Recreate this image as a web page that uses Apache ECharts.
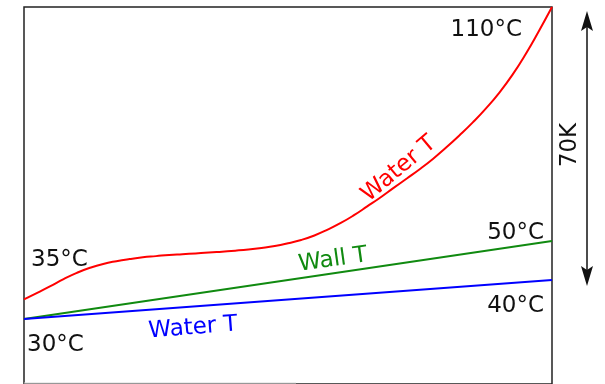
<!DOCTYPE html>
<html>
<head>
<meta charset="utf-8">
<script src="https://cdn.jsdelivr.net/npm/echarts@6/dist/echarts.min.js"></script>
<style>
  html, body { margin: 0; padding: 0; background: #fff; }
  #chart { width: 605px; height: 384px; }
</style>
</head>
<body>
<div id="chart"></div>
<script>
// Position along the heat exchanger (0 = inlet, 100 = outlet)
const position = [
  0, 2.5, 5, 7.5, 10, 12.5, 15, 17.5, 20, 22.5, 25, 27.5, 30, 32.5, 35, 37.5, 40,
  42.5, 45, 47.5, 50, 52.5, 55, 57.5, 60, 62.5, 65, 67.5, 70, 72.5, 75, 77.5, 80,
  82.5, 85, 87.5, 90, 92.5, 95, 97.5, 100
];
// Hot water temperature (°C)
const hotWater = [
  35, 36.7, 38.4, 40.2, 41.8, 43.1, 44.1, 44.8, 45.35, 45.8, 46.1, 46.4, 46.6, 46.8, 47.0, 47.25, 47.5,
  47.8, 48.2, 48.7, 49.4, 50.25, 51.4, 52.9, 54.6, 56.6, 58.85, 61.15, 63.6, 66.0, 68.45, 71.1, 74.0,
  77.1, 80.4, 84.0, 88.0, 92.6, 97.9, 103.8, 110
];
// Straight profiles: wall and cold water
const endPos = [0, 100];
const wallTemp = [30, 50];
const coldWater = [30, 40];

const FONT = '"DejaVu Sans"';
const SIZE = '23px ';
const chart = echarts.init(document.getElementById('chart'));

const pairs = (xs, ys) => xs.map((x, i) => [x, ys[i]]);
const degC = v => v + '°C';
const label = (text, x, y, align, fill, rot) => ({
  type: 'text', x, y, rotation: (rot || 0) * Math.PI / 180,
  style: { text, font: SIZE + FONT, fill: fill || '#111', align, verticalAlign: 'middle' }
});

chart.setOption({
  animation: false,
  grid: {
    left: 24, right: 53, top: 7, bottom: -3,
    show: true, borderColor: '#222', borderWidth: 1.5, backgroundColor: 'transparent'
  },
  xAxis: {
    type: 'value', min: 0, max: 100,
    axisLine: { show: false }, axisTick: { show: false },
    axisLabel: { show: false }, splitLine: { show: false }
  },
  yAxis: {
    type: 'value', min: 13.3, max: 110,
    axisLine: { show: false }, axisTick: { show: false },
    axisLabel: { show: false }, splitLine: { show: false }
  },
  series: [
    {
      name: 'Water T (hot)', type: 'line', smooth: 0.5, symbol: 'none',
      data: pairs(position, hotWater),
      lineStyle: { color: '#ff0000', width: 2 }
    },
    {
      name: 'Wall T', type: 'line', symbol: 'none',
      data: pairs(endPos, wallTemp),
      lineStyle: { color: '#108a10', width: 2 }
    },
    {
      name: 'Water T (cold)', type: 'line', symbol: 'none',
      data: pairs(endPos, coldWater),
      lineStyle: { color: '#0000ff', width: 2 }
    }
  ],
  graphic: [
    // faint lower edge of the frame
    { type: 'line', shape: { x1: 24, y1: 383, x2: 296, y2: 383 }, style: { stroke: '#d8d8d8', lineWidth: 1 } },
    // temperature annotations
    label(degC(hotWater[hotWater.length - 1]), 522, 30, 'right'),
    label(degC(hotWater[0]), 31, 260, 'left'),
    label(degC(coldWater[0]), 27, 345, 'left'),
    label(degC(wallTemp[1]), 544, 233, 'right'),
    label(degC(coldWater[1]), 544, 306, 'right'),
    // curve names
    label('Water T', 399, 169, 'center', '#ff0000', 40),
    label('Wall T', 333, 260, 'center', '#108a10', 8),
    label('Water T', 193, 328, 'center', '#0000ff', 4.5),
    // temperature span dimension arrow
    { type: 'line', shape: { x1: 587, y1: 20, x2: 587, y2: 276 }, style: { stroke: '#111', lineWidth: 1.5 } },
    { type: 'polygon', shape: { points: [[587, 11], [581, 31], [587, 27], [593, 31]] }, style: { fill: '#111' } },
    { type: 'polygon', shape: { points: [[587, 286], [581, 266], [587, 270], [593, 266]] }, style: { fill: '#111' } },
    label((hotWater[hotWater.length - 1] - coldWater[1]) + 'K', 570, 145, 'center', '#111', 90)
  ]
});
</script>
</body>
</html>
